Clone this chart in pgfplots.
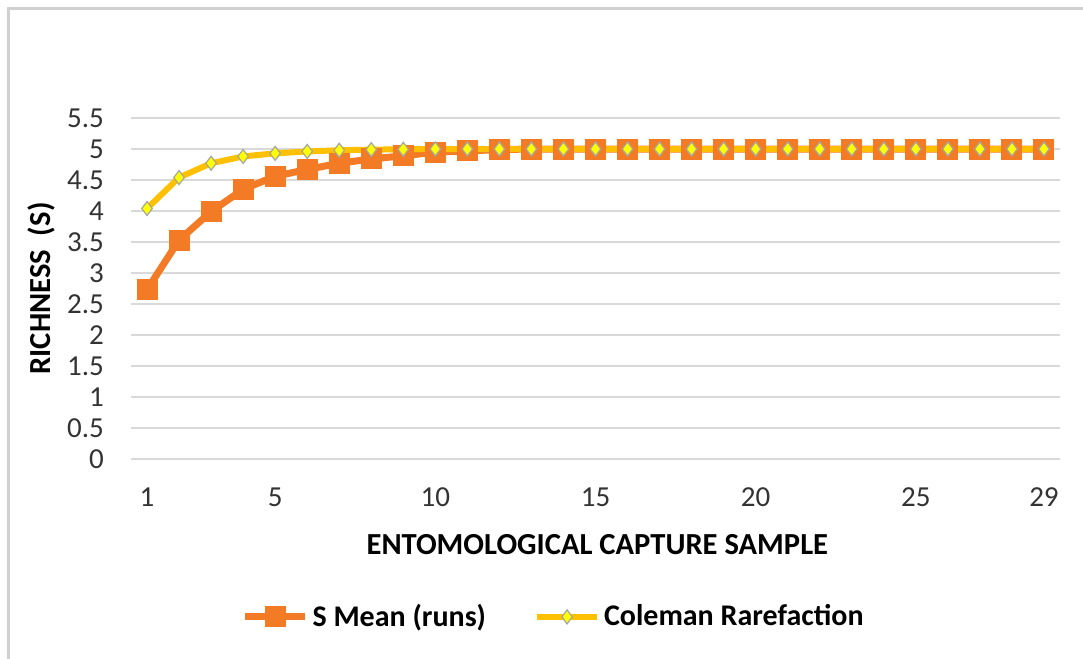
\documentclass[border=0pt]{standalone}
\usepackage{pgfplots}
\pgfplotsset{compat=1.18}
\usepackage{fontspec}
\setmainfont{Carlito}
\definecolor{sorange}{HTML}{F47B25}
\definecolor{cgold}{HTML}{FFC000}
\definecolor{dyellow}{HTML}{FFFF00}
\definecolor{dedge}{HTML}{A5A5A5}
\definecolor{gridc}{HTML}{D9D9D9}
\definecolor{framec}{HTML}{D0D0D0}
\pgfplotstableread{
x y
1 2.73
2 3.53
3 3.99
4 4.35
5 4.56
6 4.67
7 4.77
8 4.84
9 4.89
10 4.95
11 4.97
12 4.99
13 5
14 5
15 5
16 5
17 5
18 5
19 5
20 5
21 5
22 5
23 5
24 5
25 5
26 5
27 5
28 5
29 5
}\smean
\pgfplotstableread{
x y
1 4.04
2 4.54
3 4.77
4 4.88
5 4.93
6 4.96
7 4.98
8 4.99
9 4.995
10 5
11 5
12 5
13 5
14 5
15 5
16 5
17 5
18 5
19 5
20 5
21 5
22 5
23 5
24 5
25 5
26 5
27 5
28 5
29 5
}\coleman
\begin{document}
\begin{tikzpicture}
\path[use as bounding box] (0pt,0pt) rectangle (541.5pt,329.5pt);
\draw[framec, line width=1.5pt] (4pt,0pt) -- (4pt,325pt) -- (541.5pt,325pt);
\begin{axis}[
  at={(65.5pt,100pt)}, anchor=south west,
  scale only axis, width=464.5pt, height=170.5pt,
  xmin=0.5, xmax=29.5, ymin=0, ymax=5.5,
  xtick={1,5,10,15,20,25,29},
  ytick={0,0.5,...,5.5},
  yticklabels={0,0.5,1,1.5,2,2.5,3,3.5,4,4.5,5,5.5},
  axis line style={draw=none},
  major tick length=0pt,
  ymajorgrids, grid style={gridc, line width=0.9pt},
  tick label style={font=\fontsize{14.5}{16}\selectfont, text=black!80},
  yticklabel style={xshift=-10pt},
  xticklabel style={yshift=-11pt},
  /pgf/number format/assume math mode=true,
  xlabel={\textbf{ENTOMOLOGICAL CAPTURE SAMPLE}},
  ylabel={\textbf{RICHNESS\ \ (S)}},
  label style={font=\fontsize{15.3}{17}\selectfont},
  xlabel style={at={(0.502,-0.252)}, anchor=center},
  ylabel style={at={(-0.096,0.5)}, anchor=center},
  legend style={draw=none, at={(0.456,-0.463)}, anchor=center,
    font=\fontsize{15}{17}\selectfont\bfseries, legend columns=2,
    /tikz/every even column/.append style={column sep=22pt}},
  legend image code/.code={
    \draw[#1] (0pt,0pt) -- (30pt,0pt);
    \draw[#1] plot coordinates {(15pt,0pt)};},
  clip=false,
]
\addplot[sorange, line width=3.5pt, mark=square*, mark size=5pt,
  mark options={fill=sorange, draw=sorange, line width=0.5pt}] table {\smean};
\addlegendentry{S Mean (runs)}
\addplot[cgold, line width=3pt, mark=diamond*, mark size=3.5pt,
  mark options={fill=dyellow, draw=dedge, line width=0.6pt}] table {\coleman};
\addlegendentry{Coleman Rarefaction}
\end{axis}
\end{tikzpicture}
\end{document}
